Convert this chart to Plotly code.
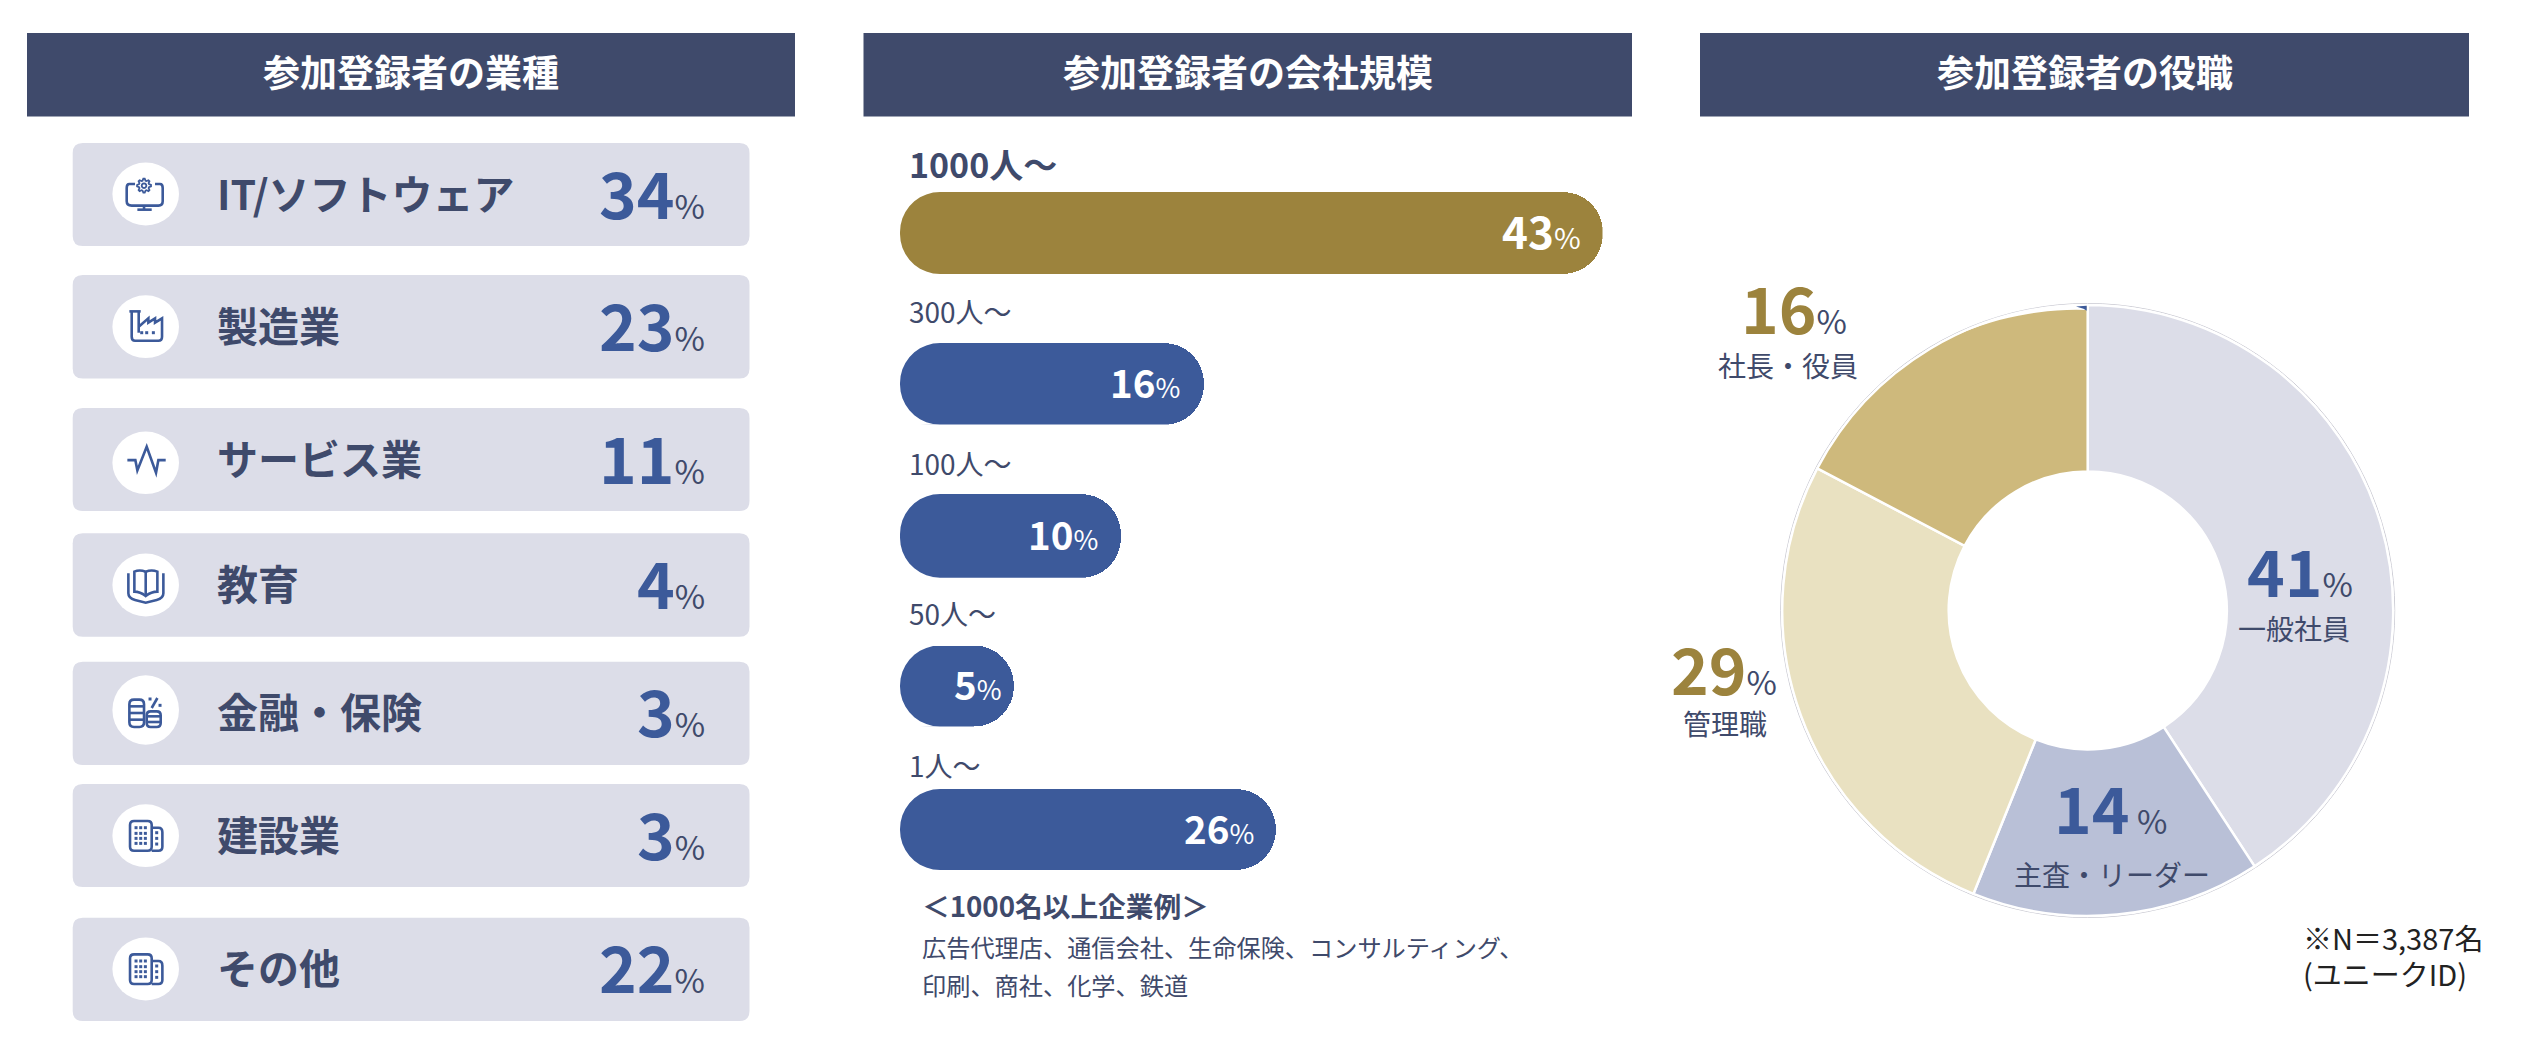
import re
import numpy as np
import plotly.graph_objects as go

# ---------- data ----------
panel_titles = ["参加登録者の業種", "参加登録者の会社規模", "参加登録者の役職"]

industry_names = ["IT/ソフトウェア", "製造業", "サービス業", "教育", "金融・保険", "建設業", "その他"]
industry_pct = [34, 23, 11, 4, 3, 3, 22]
industry_icons = ["monitor", "factory", "pulse", "book", "coins", "building", "building"]

size_names = ["1000人～", "300人～", "100人～", "50人～", "1人～"]
size_pct = [43, 16, 10, 5, 26]
# The bars in the source are not drawn proportional to their printed labels;
# these are the lengths as drawn, in the same unit as the longest bar (43).
size_drawn = [43.0, 18.6, 13.5, 7.0, 23.0]

role_names = ["一般社員", "主査・リーダー", "管理職", "社長・役員"]
role_pct = [41, 14, 29, 16]
# Slice sizes as drawn in the source (differ slightly from the printed labels).
role_drawn = [40.8, 15.3, 26.6, 17.3]

note_title = "＜1000名以上企業例＞"
note_lines = ["広告代理店、通信会社、生命保険、コンサルティング、", "印刷、商社、化学、鉄道"]
footnote = ["※N＝3,387名", "(ユニークID)"]

# ---------- style ----------
W, H = 2524, 1064
FONT = "Noto Sans CJK JP"
NAVY = "#3f4a6b"
BLUE = "#3c5a9a"
GOLD = "#9c833d"
CARD = "#dcdde8"
ROLE_COLORS = ["#dcdde8", "#b9c0d7", "#e9e1c1", "#ceb97c"]

# layout boxes in page pixels
HEADERS = [(27, 795), (863.5, 1632), (1700, 2469)]
HEADER_Y = (33, 116.5)
CARD_X = (72.7, 749.5)
CARD_Y = [(143, 246), (275, 378.5), (408, 511), (533.3, 636.7), (661.7, 765), (784, 887), (917.7, 1021)]
CIRCLE_CY = [194, 326.7, 462.8, 585, 710, 835.7, 969]
CIRCLE_RY = [31.4, 31.4, 31.3, 31.4, 34.7, 31.4, 31.4]
CIRCLE_CX = 145.7
BAR_Y = [(192, 274), (343, 424.6), (494, 577.7), (645.5, 726.5), (789, 870)]
BAR_X = (900, 1602.5)
BAR_R = 40
BAR_LABEL_Y = [166, 313, 465, 615, 767]
BAR_TEXT_SHIFT = [-21, -23, -22, -11, -21]
PIE_C = (2087.7, 610.5)
PIE_R = 305.5
HOLE = 0.455


def rrect(x0, y0, x1, y1, r):
    return (f"M {x0+r} {y0} L {x1-r} {y0} Q {x1} {y0} {x1} {y0+r} L {x1} {y1-r} Q {x1} {y1} {x1-r} {y1} "
            f"L {x0+r} {y1} Q {x0} {y1} {x0} {y1-r} L {x0} {y0+r} Q {x0} {y0} {x0+r} {y0} Z")


def ring(cx, cy, r, n=24):
    a = np.linspace(0, 2 * np.pi, n, endpoint=False)
    pts = [f"{cx + r*np.cos(t):.2f} {cy + r*np.sin(t):.2f}" for t in a]
    return "M " + " L ".join(pts) + " Z"


def gear(cx, cy, r, teeth=8):
    pts = []
    for i in range(teeth * 4):
        t = 2 * np.pi * i / (teeth * 4)
        rr = r if i % 4 in (0, 1) else r * 0.74
        pts.append(f"{cx + rr*np.cos(t-0.1):.2f} {cy + rr*np.sin(t-0.1):.2f}")
    return "M " + " L ".join(pts) + " Z"


def corner_mask(x, y, sx, sy, r):
    """White piece that rounds a square corner at (x, y); sx, sy point into the bar."""
    a = np.linspace(0, np.pi / 2, 10)
    pts = [f"{x - 1 * sx} {y - 1 * sy}"]
    pts += [f"{x + sx*r*(1-np.sin(t)):.2f} {y + sy*r*(1-np.cos(t)):.2f}" for t in a]
    pts.append(f"{x - 1 * sx} {y + sy*r}")
    return "M " + " L ".join(pts) + " Z"


# icon outlines, in 3x local units around the circle centre
ICON_STROKE = {
    "monitor": [
        "M -32 -30 L -49 -30 Q -57 -30 -57 -18 L -57 22 Q -57 35 -42 35 L 38 35 Q 51 35 51 22 L 51 -18 Q 51 -30 43 -30 L 28 -30",
        "M -5 35 L -5 47", "M -25 47 L 18 47"],
    "factory": [
        "M -49 -46 L -15 -46", "M -42 -46 L -42 30 Q -42 42 -32 42 L 38 42 Q 49 42 49 30 L 49 -25 L 28 -12 L 28 -25 L 8 -12 L 8 -25 L -21 0",
        "M -21 -46 L -21 18"],
    "pulse": ["M -55 -8 L -31 -8 L -25 23 L 3 -48 L 31 30 L 38 -8 L 60 -8"],
    "book": [
        "M -52 -35 L -52 25 Q -52 40 -32 45 L 0 53 L 33 45 Q 53 40 53 25 L 53 -35",
        "M 0 -40 Q -19 -47 -34 -40 L -34 20 Q -17 20 0 33 Q 17 20 35 20 L 35 -40 Q 18 -47 0 -40 Z",
        "M 0 -40 L 0 33"],
    "coins": [
        rrect(-49, -31, -5, 51, 14), "M -49 -11 L -5 -11", "M -49 9 L -5 9", "M -49 29 L -5 29",
        rrect(3, 4, 45, 51, 12), "M 3 19 L 45 19", "M 3 36 L 45 36",
        "M 18 -6 L 35 -36"],
    "building": [
        rrect(-47, -44, 18, 45, 12), "M 18 -24 L 38 -24 Q 50 -24 50 -10 L 50 33 Q 50 45 38 45 L 18 45"],
}
ICON_THIN = {"monitor": [gear(-5, -25, 21), ring(-5, -25, 7, 12)]}
ICON_DOTS = {
    "factory": [(-12, 18), (3, 18), (23, 18)],
    "coins": [(13, -33), (43, -14)],
    "building": [(x, y) for x in (-29, -15, -1) for y in (-24, -7, 8, 23)] + [(33, y) for y in (-9, 8, 25)],
}


def place(path, cx, cy, scale=1 / 3):
    out, k = [], 0
    for tok in re.findall(r"[A-Za-z]|-?\d+\.?\d*", path):
        if tok.isalpha():
            out.append(tok)
        else:
            v = float(tok) * scale + (cx if k % 2 == 0 else cy)
            out.append(f"{v:.2f}")
            k += 1
    return " ".join(out)


fig = go.Figure()
shapes, ann = [], []
PX = dict(xref="x6", yref="y6")


def text(x, y, s, size, color=NAVY, anchor="left", bold=False):
    body = f"<b>{s}</b>" if bold else s
    x = x - 3 if anchor == "left" else x
    ann.append(dict(x=x, y=y - size * 0.07, text=body, showarrow=False, xanchor=anchor, yanchor="middle", align=anchor,
                    font=dict(family=FONT, size=size, color=color), borderpad=0, **PX))


def pct(x, y, value, num_size, unit_size, num_color, unit_color=NAVY, gap=""):
    s = (f"<b><span style='font-size:{num_size}px;color:{num_color}'>{value}</span></b>{gap}"
         f"<span style='font-size:{unit_size}px;color:{unit_color}'>%</span>")
    ann.append(dict(x=x, y=y, text=s, showarrow=False, xanchor="right", yanchor="middle",
                    font=dict(family=FONT, size=unit_size, color=unit_color), borderpad=0, **PX))


# headers
for (x0, x1), title in zip(HEADERS, panel_titles):
    shapes.append(dict(type="rect", x0=x0, x1=x1, y0=HEADER_Y[0], y1=HEADER_Y[1], fillcolor=NAVY,
                       line_width=0, layer="below", **PX))
    text((x0 + x1) / 2, 74, title, 37, "white", "center", True)

# left panel
for name, value, icon, (y0, y1), cy, ry in zip(industry_names, industry_pct, industry_icons, CARD_Y, CIRCLE_CY, CIRCLE_RY):
    shapes.append(dict(type="path", path=rrect(CARD_X[0], y0, CARD_X[1], y1, 10), fillcolor=CARD,
                       line_width=0, layer="below", **PX))
    shapes.append(dict(type="circle", x0=CIRCLE_CX - 33.3, x1=CIRCLE_CX + 33.3, y0=cy - ry, y1=cy + ry,
                       fillcolor="white", line_width=0, layer="below", **PX))
    for p in ICON_STROKE[icon]:
        shapes.append(dict(type="path", path=place(p, CIRCLE_CX, cy), line=dict(color=BLUE, width=2.6),
                           fillcolor="rgba(0,0,0,0)", **PX))
    for p in ICON_THIN.get(icon, []):
        shapes.append(dict(type="path", path=place(p, CIRCLE_CX, cy), line=dict(color=BLUE, width=1.8),
                           fillcolor="rgba(0,0,0,0)", **PX))
    for dx, dy in ICON_DOTS.get(icon, []):
        x, y = CIRCLE_CX + dx / 3, cy + dy / 3
        shapes.append(dict(type="rect", x0=x - 1.5, x1=x + 1.5, y0=y - 1.5, y1=y + 1.5, fillcolor=BLUE,
                           line_width=0, **PX))
    text(218.6, (y0 + y1) / 2, name, 41, NAVY, "left", True)
    pct(705.5, (y0 + y1) / 2 - 4, value, 64, 33, BLUE)

# middle panel: every bar on its own axis pair so that spacing follows the source
for i, (name, pct_v, drawn, (y0, y1), ly, shift) in enumerate(
        zip(size_names, size_pct, size_drawn, BAR_Y, BAR_LABEL_Y, BAR_TEXT_SHIFT), start=1):
    fig.add_trace(go.Bar(x=[drawn], y=[name], orientation="h", width=1, xaxis=f"x{i}", yaxis=f"y{i}",
                         marker=dict(color=GOLD if i == 1 else BLUE, line_width=0, cornerradius=BAR_R),
                         hoverinfo="skip", showlegend=False))
    # plotly rounds only the far end of a bar: round the near end with white corner pieces
    for yy, sy in ((y0, 1), (y1, -1)):
        shapes.append(dict(type="path", path=corner_mask(BAR_X[0], yy, 1, sy, BAR_R), fillcolor="white",
                           line_width=0, layer="above", **PX))
    first = i == 1
    text(910.6, ly, name, 34 if first else 28, NAVY, "left", first)
    num, unit = (44, 29) if first else (38.5, 27)
    s = (f"<b><span style='font-size:{num}px;color:white'>{pct_v}</span></b>"
         f"<span style='font-size:{unit}px;color:white'>%</span>")
    ann.append(dict(x=drawn, y=name, xref=f"x{i}", yref=f"y{i}", text=s, showarrow=False, xanchor="right",
                    yanchor="middle", xshift=shift, yshift=3, font=dict(family=FONT, size=unit, color="white"), borderpad=0))

text(923.7, 907, note_title, 27.7, NAVY, "left", True)
text(923.5, 948.5, note_lines[0], 24.2, NAVY)
text(923.5, 986.2, note_lines[1], 24.2, NAVY)

# right panel
fig.add_trace(go.Pie(values=role_drawn, labels=role_names, hole=HOLE, sort=False, direction="clockwise", rotation=0,
                     textinfo="none", hoverinfo="skip", showlegend=False,
                     marker=dict(colors=ROLE_COLORS, line=dict(color="white", width=2.5)),
                     domain=dict(x=[(PIE_C[0] - PIE_R) / W, (PIE_C[0] + PIE_R) / W],
                                 y=[1 - (PIE_C[1] + PIE_R) / H, 1 - (PIE_C[1] - PIE_R) / H])))
shapes.append(dict(type="circle", x0=PIE_C[0] - PIE_R - 1.5, x1=PIE_C[0] + PIE_R + 1.5, y0=PIE_C[1] - PIE_R - 1.5,
                   y1=PIE_C[1] + PIE_R + 1.5, line=dict(color="#c9c9d2", width=1), layer="below", **PX))
# the source's top-left arc is pinched inside the ring, with a speck of blue at 12 o'clock
theta = np.radians(np.linspace(0.3, 28, 16))
outer = [f"{PIE_C[0] - (PIE_R + 0.5)*np.sin(t):.2f} {PIE_C[1] - (PIE_R + 0.5)*np.cos(t):.2f}" for t in theta]
inner = [f"{PIE_C[0] - (PIE_R - 5*(1 - t/theta[-1]))*np.sin(t):.2f} {PIE_C[1] - (PIE_R - 5*(1 - t/theta[-1]))*np.cos(t):.2f}"
         for t in theta[::-1]]
shapes.append(dict(type="path", path="M " + " L ".join(outer + inner) + " Z", fillcolor="white", line_width=0,
                   layer="above", **PX))
shapes.append(dict(type="path", path="M 2076 306.5 L 2086.7 305.8 L 2086.7 310.8 L 2083.5 308.8 Z", fillcolor=BLUE,
                   line_width=0, layer="above", **PX))

pct(2354, 568.5, role_pct[0], 64, 33, BLUE)
text(2293.6, 629.5, role_names[0], 28, NAVY, "center")
pct(2168, 805.5, role_pct[1], 64, 33, BLUE, gap=" ")
text(2112, 875.5, role_names[1], 28, NAVY, "center")
pct(1777.5, 666.5, role_pct[2], 64, 33, GOLD)
text(1725, 725, role_names[2], 28, NAVY, "center")
pct(1848, 305.5, role_pct[3], 64, 33, GOLD)
text(1788.4, 367, role_names[3], 28, NAVY, "center")

text(2304.5, 939.5, footnote[0], 29, "#222222")
text(2304.5, 975, footnote[1], 29, "#222222")

# invisible trace so that the full-page pixel axes exist
fig.add_trace(go.Scatter(x=[None], y=[None], xaxis="x6", yaxis="y6", hoverinfo="skip", showlegend=False))

layout = dict(width=W, height=H, margin=dict(l=0, r=0, t=0, b=0, pad=0), paper_bgcolor="white", plot_bgcolor="rgba(0,0,0,0)",
              shapes=shapes, annotations=ann, barmode="overlay", bargap=0, showlegend=False,
              font=dict(family=FONT, color=NAVY), hovermode=False)
hidden = dict(visible=False, fixedrange=True)
for i, (y0, y1) in enumerate(BAR_Y, start=1):
    layout[f"xaxis{i}"] = dict(hidden, domain=[BAR_X[0] / W, BAR_X[1] / W], range=[0, size_drawn[0]], anchor=f"y{i}")
    layout[f"yaxis{i}"] = dict(hidden, domain=[1 - y1 / H, 1 - y0 / H], type="category", anchor=f"x{i}")
layout["xaxis6"] = dict(hidden, domain=[0, 1], range=[0, W], anchor="y6")
layout["yaxis6"] = dict(hidden, domain=[0, 1], range=[H, 0], anchor="x6")
fig.update_layout(**layout)

fig.write_html("out.html", config=dict(displayModeBar=False),
               post_script="document.body.style.margin='0';document.body.style.overflow='hidden';")
